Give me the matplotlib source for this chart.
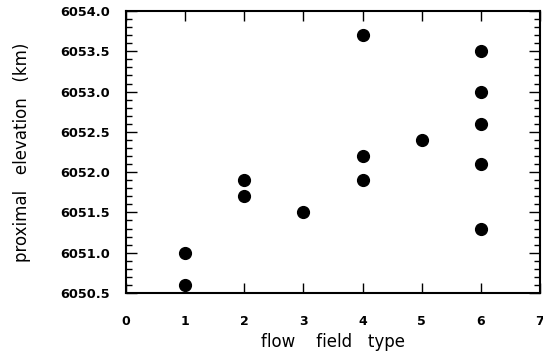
import matplotlib
matplotlib.use("Agg")
import matplotlib.pyplot as plt
from matplotlib.ticker import MultipleLocator, FormatStrFormatter

flow_type = [1, 1, 2, 2, 3, 4, 4, 4, 5, 6, 6, 6, 6, 6]
elevation = [6051.0, 6050.6, 6051.9, 6051.7, 6051.5, 6053.7, 6052.2, 6051.9,
             6052.4, 6053.5, 6053.0, 6052.6, 6052.1, 6051.3]
x_ticks = [0, 1, 2, 3, 4, 5, 6, 7]
x_label = "flow    field   type"
y_label = "proximal   elevation   (km)"

plt.rcParams['font.family'] = ['DejaVu Sans']
fig = plt.figure(figsize=(5.43, 3.54), dpi=100)
ax = fig.add_axes([126/543, (354-293)/354, (540-126)/543, (293-11)/354])

ax.scatter(flow_type, elevation, s=72, color='black', zorder=3, clip_on=False)

ax.set_xlim(0, 7)
ax.set_ylim(6050.5, 6054.0)
ax.set_xticks(x_ticks)
ax.yaxis.set_major_locator(MultipleLocator(0.5))
ax.yaxis.set_minor_locator(MultipleLocator(0.1))
ax.yaxis.set_major_formatter(FormatStrFormatter('%.1f'))

for s in ax.spines.values():
    s.set_linewidth(1.5)

ax.tick_params(axis='both', which='both', direction='in', top=True, right=True,
               width=1.0)
ax.tick_params(axis='y', which='major', length=8, pad=11.5, labelsize=9.3)
ax.tick_params(axis='y', which='minor', length=4)
ax.tick_params(axis='x', which='major', length=7, pad=16, labelsize=9)
for lbl in ax.get_xticklabels() + ax.get_yticklabels():
    lbl.set_fontweight('bold')

ax.set_xlabel(x_label, fontsize=12)
ax.set_ylabel(y_label, fontsize=12)
ax.xaxis.set_label_coords(0.5, -(342 - 293) / 282, transform=ax.transAxes)
ax.xaxis.label.set_va('center')
ax.yaxis.set_label_coords(-(126 - 22) / 414, 0.5, transform=ax.transAxes)
ax.yaxis.label.set_va('center')

fig.savefig("out.png", dpi=100)
